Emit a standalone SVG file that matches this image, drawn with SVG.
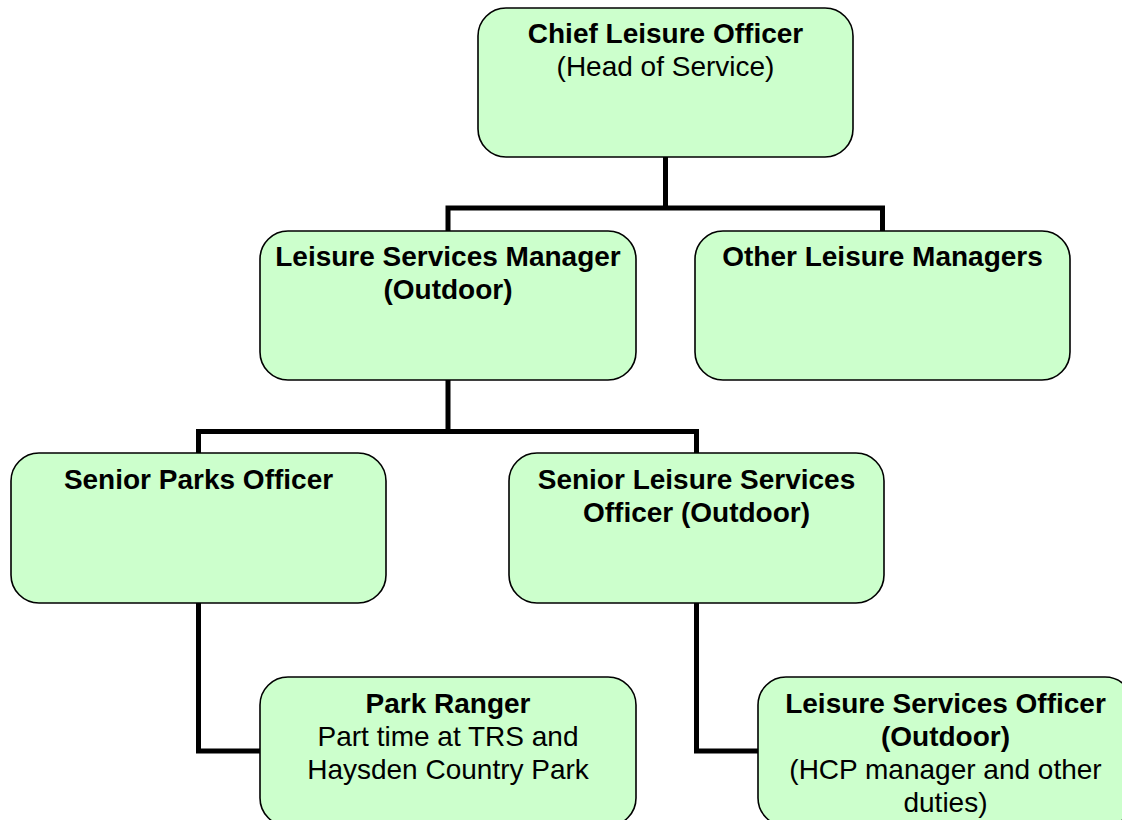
<svg xmlns="http://www.w3.org/2000/svg" width="1122" height="820" viewBox="0 0 1122 820">
  <style>
    .box { fill: #CCFFCC; stroke: #000000; stroke-width: 1.6; }
    .link { fill: none; stroke: #000000; stroke-width: 5; stroke-linejoin: miter; stroke-linecap: square; }
    text { font-family: "Liberation Sans", Arial, sans-serif; font-size: 28px; fill: #000000; text-anchor: middle; }
    .b { font-weight: bold; }
  </style>
  <rect width="1122" height="820" fill="#FFFFFF"/>

  <!-- reporting lines -->
  <g id="connectors">
    <path class="link" d="M665.5,157 V208 M448,231 V208 H882.5 V231"/>
    <path class="link" d="M448,380 V431.5 M198.5,453 V431.5 H696.5 V453"/>
    <path class="link" d="M198.5,603 V751 H260"/>
    <path class="link" d="M696.5,603 V751 H758"/>
  </g>

  <g id="chief-leisure-officer">
    <rect class="box" x="478" y="8" width="375" height="149" rx="28" ry="28"/>
    <text x="665.5" y="43" class="b">Chief Leisure Officer</text>
    <text x="665.5" y="76">(Head of Service)</text>
  </g>

  <g id="leisure-services-manager">
    <rect class="box" x="260" y="231" width="376" height="149" rx="28" ry="28"/>
    <text x="448" y="266" class="b">Leisure Services Manager</text>
    <text x="448" y="299" class="b">(Outdoor)</text>
  </g>

  <g id="other-leisure-managers">
    <rect class="box" x="695" y="231" width="375" height="149" rx="28" ry="28"/>
    <text x="882.5" y="266" class="b">Other Leisure Managers</text>
  </g>

  <g id="senior-parks-officer">
    <rect class="box" x="11" y="453" width="375" height="150" rx="28" ry="28"/>
    <text x="198.5" y="489" class="b">Senior Parks Officer</text>
  </g>

  <g id="senior-leisure-services-officer">
    <rect class="box" x="509" y="453" width="375" height="150" rx="28" ry="28"/>
    <text x="696.5" y="489" class="b">Senior Leisure Services</text>
    <text x="696.5" y="522" class="b">Officer (Outdoor)</text>
  </g>

  <g id="park-ranger">
    <rect class="box" x="260" y="677" width="376" height="149" rx="28" ry="28"/>
    <text x="448" y="713" class="b">Park Ranger</text>
    <text x="448" y="746">Part time at TRS and</text>
    <text x="448" y="779">Haysden Country Park</text>
  </g>

  <g id="leisure-services-officer">
    <rect class="box" x="758" y="677" width="375" height="149" rx="28" ry="28"/>
    <text x="945.5" y="713" class="b">Leisure Services Officer</text>
    <text x="945.5" y="746" class="b">(Outdoor)</text>
    <text x="945.5" y="779">(HCP manager and other</text>
    <text x="945.5" y="812">duties)</text>
  </g>
</svg>
